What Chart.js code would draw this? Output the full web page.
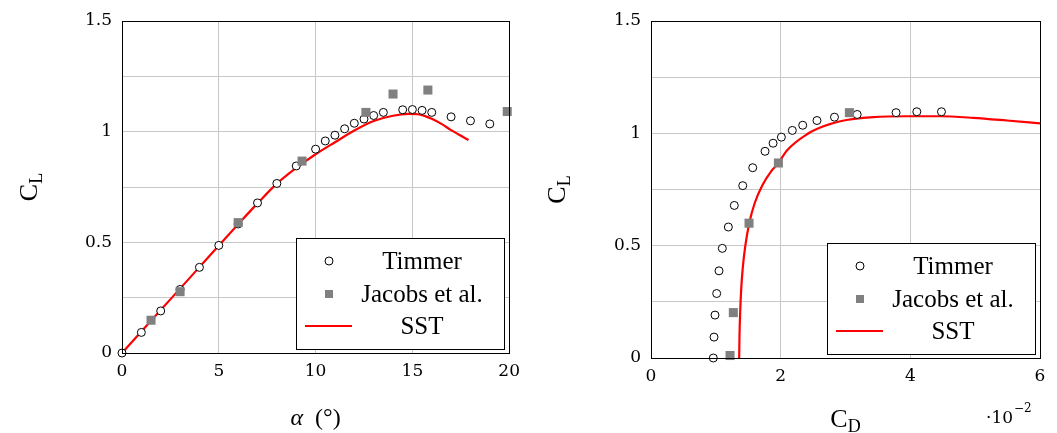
<!DOCTYPE html>
<html>
<head>
<meta charset="utf-8">
<script src="https://cdn.jsdelivr.net/npm/chart.js@4.4.0/dist/chart.umd.min.js"></script>
<style>
  body { margin: 0; background: #fff; width: 1057px; height: 433px; overflow: hidden; position: relative; }
  canvas { position: absolute; top: 0; }
  #left { left: 0; }
  #right { left: 528px; }
</style>
</head>
<body>
<canvas id="left" width="528" height="433"></canvas>
<canvas id="right" width="529" height="433"></canvas>
<script>
// ---- data ----
// left: lift vs angle of attack
const timmerAlpha = [0, 1, 2, 3, 4, 5, 6, 7, 8, 9, 10, 10.5, 11, 11.5, 12, 12.5, 13, 13.5, 14.5, 15, 15.5, 16, 17, 18, 19];
const timmerCL = [0, 0.093, 0.19, 0.287, 0.387, 0.486, 0.583, 0.678, 0.766, 0.845, 0.921, 0.958, 0.984, 1.013, 1.038, 1.057, 1.073, 1.087, 1.099, 1.1, 1.096, 1.087, 1.067, 1.049, 1.035];
const jacobsAlpha = [1.5, 3, 6, 9.3, 12.6, 14, 15.8, 19.9];
const jacobsCL = [0.148, 0.277, 0.589, 0.867, 1.087, 1.17, 1.188, 1.091];
const sstAlpha = [0, 2, 4, 6, 7, 8, 9, 10, 11, 12, 13, 14, 14.8, 15.5, 16, 16.5, 17, 17.9];
const sstCL = [0, 0.194, 0.388, 0.582, 0.676, 0.765, 0.836, 0.898, 0.952, 1.005, 1.048, 1.072, 1.08, 1.075, 1.058, 1.035, 1.007, 0.962];

// right: drag polar (CD in units of 1e-2)
const timmerCD = [0.961, 0.972, 0.987, 1.013, 1.049, 1.10, 1.193, 1.285, 1.415, 1.569, 1.759, 1.883, 2.011, 2.18, 2.34, 2.56, 2.83, 3.18, 3.78, 4.10, 4.48];
const timmerCLp = [0, 0.093, 0.191, 0.287, 0.388, 0.488, 0.583, 0.679, 0.767, 0.847, 0.92, 0.956, 0.983, 1.013, 1.036, 1.057, 1.072, 1.084, 1.092, 1.096, 1.096];
const jacobsCD = [1.219, 1.27, 1.512, 1.965, 3.06];
const jacobsCLp = [0.011, 0.202, 0.6, 0.868, 1.092];
const sstCD = [1.36, 1.365, 1.375, 1.39, 1.415, 1.455, 1.515, 1.6, 1.72, 1.85, 1.965, 2.1, 2.4, 2.65, 2.92, 3.43, 3.94, 4.46, 4.97, 5.49, 6.0];
const sstCLp = [0, 0.1, 0.2, 0.3, 0.4, 0.5, 0.6, 0.69, 0.77, 0.83, 0.868, 0.925, 0.995, 1.03, 1.054, 1.072, 1.076, 1.076, 1.069, 1.057, 1.044];

const leftXTicks = [0, 20, 5];
const rightXTicks = [0, 6, 2];
const yTicks = [0, 1.5, 0.25];

const SERIF = '"Liberation Serif", "Times New Roman", serif';
const TICKSERIF = '"DejaVu Serif", serif';
const GRID = '#c8c8c8';
const GRAY = '#808080';

function pts(xs, ys) {
    return xs.map((x, i) => ({ x: x, y: ys[i] }));
}

function datasets(tx, ty, jx, jy, sx, sy) {
    return [
        {
            label: 'Timmer', data: pts(tx, ty), order: 1, clip: false,
            pointStyle: 'circle', pointRadius: 4, backgroundColor: '#fff',
            borderColor: '#000', borderWidth: 1,
        },
        {
            label: 'Jacobs et al.', data: pts(jx, jy), order: 0, clip: false,
            pointStyle: 'rect', pointRadius: 6.4, backgroundColor: GRAY,
            borderColor: GRAY, borderWidth: 0,
        },
        {
            label: 'SST', data: pts(sx, sy), order: 2, clip: false,
            showLine: true, pointRadius: 0, borderColor: '#ff0000',
            borderWidth: 2.2, cubicInterpolationMode: 'monotone',
        },
    ];
}

// draw a run of text pieces (main letter + sub/superscripts) centred on cx
function drawRich(ctx, parts, cx, y) {
    let total = 0;
    parts.forEach((p) => { ctx.font = p.font; total += ctx.measureText(p.text).width; });
    let x = cx - total / 2;
    parts.forEach((p) => {
        ctx.font = p.font;
        ctx.fillText(p.text, x, y + (p.dy || 0));
        x += ctx.measureText(p.text).width;
    });
}

const CL_TITLE = [
    { text: 'C', font: '26px ' + SERIF },
    { text: 'L', font: '18px ' + SERIF, dy: 5 },
];

function decor(xTitle, xBase, extra) {
    return {
        id: 'decor',
        afterDraw(chart) {
            const ctx = chart.ctx, a = chart.chartArea;
            ctx.save();
            // frame
            ctx.strokeStyle = '#000';
            ctx.lineWidth = 1;
            ctx.strokeRect(Math.round(a.left) + 0.5, Math.round(a.top) + 0.5,
                Math.round(a.right - a.left), Math.round(a.bottom - a.top));

            // legend box inside the plot, bottom right
            const w = 208, h = 111;
            const x0 = Math.round(a.right) - 5 - w, y0 = Math.round(a.bottom) - 4 - h;
            ctx.fillStyle = '#fff';
            ctx.fillRect(x0, y0, w, h);
            ctx.strokeRect(x0 + 0.5, y0 + 0.5, w, h);
            const ds = chart.data.datasets;
            ctx.font = '25px ' + SERIF;
            ctx.textAlign = 'center';
            ctx.textBaseline = 'middle';
            const rows = [23, 56, 88];
            ds.forEach((d, i) => {
                const y = y0 + rows[i];
                ctx.fillStyle = '#000';
                ctx.fillText(d.label, x0 + 126, y + 1);
                if (i === 0) {
                    ctx.beginPath();
                    ctx.arc(x0 + 33, y, 4, 0, Math.PI * 2);
                    ctx.fillStyle = '#fff';
                    ctx.fill();
                    ctx.strokeStyle = '#000';
                    ctx.stroke();
                } else if (i === 1) {
                    ctx.fillStyle = GRAY;
                    ctx.fillRect(x0 + 29, y - 4, 8, 8);
                } else {
                    ctx.strokeStyle = '#ff0000';
                    ctx.lineWidth = 2.2;
                    ctx.beginPath();
                    ctx.moveTo(x0 + 9, y);
                    ctx.lineTo(x0 + 56, y);
                    ctx.stroke();
                    ctx.lineWidth = 1;
                }
            });

            // axis titles
            ctx.fillStyle = '#000';
            ctx.textAlign = 'left';
            ctx.textBaseline = 'alphabetic';
            drawRich(ctx, xTitle, (a.left + a.right) / 2, xBase);
            ctx.save();
            ctx.translate(37, (a.top + a.bottom) / 2);
            ctx.rotate(-Math.PI / 2);
            drawRich(ctx, CL_TITLE, 0, 0);
            ctx.restore();
            if (extra) extra(ctx, a);
            ctx.restore();
        },
    };
}

function scales(xt, yWidth, xHeight, xPad) {
    const tickFont = { family: TICKSERIF, size: 17 };
    return {
        x: {
            type: 'linear', min: xt[0], max: xt[1],
            ticks: { stepSize: xt[2], font: tickFont, color: '#000', padding: xPad, autoSkip: false, maxRotation: 0 },
            grid: { color: GRID, drawTicks: false },
            border: { display: false },
            afterFit(s) { s.height = xHeight; },
        },
        y: {
            type: 'linear', min: yTicks[0], max: yTicks[1],
            ticks: {
                stepSize: yTicks[2], font: tickFont, color: '#000', padding: 10, autoSkip: false,
                callback: (v) => (Math.abs(v * 2 - Math.round(v * 2)) < 1e-9 ? String(v) : ''),
            },
            grid: { color: GRID, drawTicks: false },
            border: { display: false },
            afterFit(s) { s.width = yWidth; },
        },
    };
}

function baseOptions(sc, padRight) {
    return {
        responsive: false,
        animation: false,
        events: [],
        layout: { padding: { top: 21, right: padRight, left: 0, bottom: 0 } },
        plugins: { legend: { display: false }, tooltip: { enabled: false } },
        scales: sc,
    };
}

new Chart(document.getElementById('left'), {
    type: 'scatter',
    data: { datasets: datasets(timmerAlpha, timmerCL, jacobsAlpha, jacobsCL, sstAlpha, sstCL) },
    options: baseOptions(scales(leftXTicks, 122, 80, 8), 18),
    plugins: [decor([
        { text: 'α', font: 'italic 24px ' + SERIF },
        { text: '  (°)', font: '24px ' + SERIF },
    ], 425)],
});

new Chart(document.getElementById('right'), {
    type: 'scatter',
    data: { datasets: datasets(timmerCD, timmerCLp, jacobsCD, jacobsCLp, sstCD, sstCLp) },
    options: baseOptions(scales(rightXTicks, 123, 75, 8), 17),
    plugins: [decor([
        { text: 'C', font: '26px ' + SERIF },
        { text: 'D', font: '18px ' + SERIF, dy: 5 },
    ], 427, (ctx, a) => {
        ctx.textAlign = 'left';
        ctx.font = '17px ' + TICKSERIF;
        ctx.fillText('·10', 458, 423);
        const w = ctx.measureText('·10').width;
        ctx.font = '12px ' + TICKSERIF;
        ctx.fillText('−2', 458 + w + 1, 412);
    })],
});
</script>
</body>
</html>
